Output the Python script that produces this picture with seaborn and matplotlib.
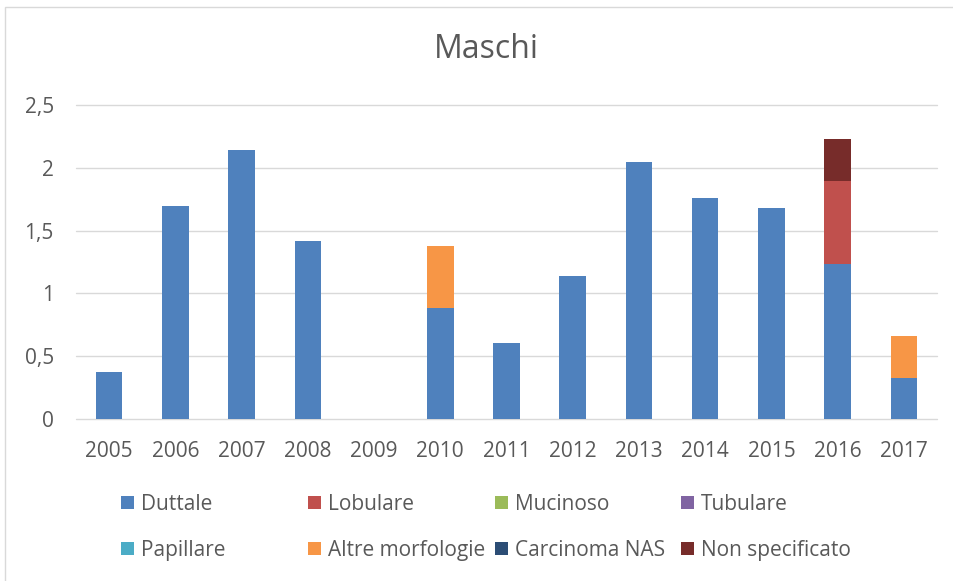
import matplotlib
matplotlib.use("Agg")
import matplotlib.pyplot as plt
from matplotlib.patches import Rectangle
import seaborn as sns
import numpy as np
import pandas as pd

years = ["2005", "2006", "2007", "2008", "2009", "2010", "2011",
         "2012", "2013", "2014", "2015", "2016", "2017"]
series_names = ["Duttale", "Lobulare", "Mucinoso", "Tubulare",
                "Papillare", "Altre morfologie", "Carcinoma NAS", "Non specificato"]
duttale = [0.375, 1.70, 2.145, 1.417, 0.0, 0.885, 0.606, 1.138, 2.047, 1.757, 1.678, 1.236, 0.327]
lobulare = [0, 0, 0, 0, 0, 0, 0, 0, 0, 0, 0, 0.662, 0]
mucinoso = [0] * 13
tubulare = [0] * 13
papillare = [0] * 13
altre = [0, 0, 0, 0, 0, 0.492, 0, 0, 0, 0, 0, 0, 0.330]
carcinoma_nas = [0] * 13
non_specificato = [0, 0, 0, 0, 0, 0, 0, 0, 0, 0, 0, 0.332, 0]
colors = ["#4F81BD", "#C0504D", "#9BBB59", "#8064A2",
          "#4BACC6", "#F79646", "#2C4D75", "#772C2A"]
yticks = [0, 0.5, 1, 1.5, 2, 2.5]
ytick_labels = ["0", "0,5", "1", "1,5", "2", "2,5"]
title = "Maschi"

values = [duttale, lobulare, mucinoso, tubulare, papillare, altre, carcinoma_nas, non_specificato]

sns.set_theme(style="white")
plt.rcParams["font.family"] = ["Open Sans", "DejaVu Sans"]
TXT = "#595959"
GRID = "#d9d9d9"

W, H = 954, 581
fig = plt.figure(figsize=(W / 100, H / 100), dpi=100)
fig.patch.set_facecolor("white")

# chart-area border (left/top visible)
fig.patches.append(Rectangle((5 / W, -0.1), 1.2, 1 - 7 / H + 0.1, transform=fig.transFigure,
                             fill=False, edgecolor=GRID, linewidth=1.0))

x0, x1 = 76, 937
y_zero, y_top = 418.7, 105.3
ax = fig.add_axes([x0 / W, 1 - y_zero / H, (x1 - x0) / W, (y_zero - y_top) / H])

bottom = np.zeros(len(years))
for name, vals, c in zip(series_names, values, colors):
    df = pd.DataFrame({"year": years, "value": vals})
    sns.barplot(data=df, x="year", y="value", order=years, color=c, width=0.4,
                bottom=bottom.copy(), ax=ax, saturation=1, label=name, zorder=3,
                linewidth=0, edgecolor="none")
    bottom = bottom + np.array(vals)

ax.set_xlim(-0.5, len(years) - 0.5)
ax.set_ylim(0, 2.5)
ax.set_yticks(yticks)
ax.set_yticklabels(ytick_labels)
ax.set_xlabel("")
ax.set_ylabel("")
for s in ax.spines.values():
    s.set_visible(False)
ax.grid(axis="y", color=GRID, linewidth=1.0, zorder=0)
ax.grid(axis="x", visible=False)
ax.set_axisbelow(True)
for ln in ax.get_ygridlines():
    ln.set_clip_on(False)
ax.tick_params(axis="y", length=0, pad=16, labelsize=15, labelcolor=TXT)
ax.tick_params(axis="x", length=0, pad=16, labelsize=15, labelcolor=TXT)
if ax.get_legend() is not None:
    ax.get_legend().remove()

fig.text(486 / W, 1 - 50 / H, title, ha="center", va="center", fontsize=23, color=TXT)

# legend, Excel-style equal columns
col_x = [121, 308, 495, 681]
row_y = [502, 548]
sq = 13
for i, (name, c) in enumerate(zip(series_names, colors)):
    cx = col_x[i % 4]
    cy = row_y[i // 4]
    fig.patches.append(Rectangle((cx / W, 1 - (cy + sq / 2) / H), sq / W, sq / H,
                                 transform=fig.transFigure, facecolor=c, edgecolor="none"))
    fig.text((cx + 20) / W, 1 - cy / H, name, ha="left", va="center_baseline",
             fontsize=15, color=TXT)

fig.savefig("out.png", dpi=100, facecolor="white")
